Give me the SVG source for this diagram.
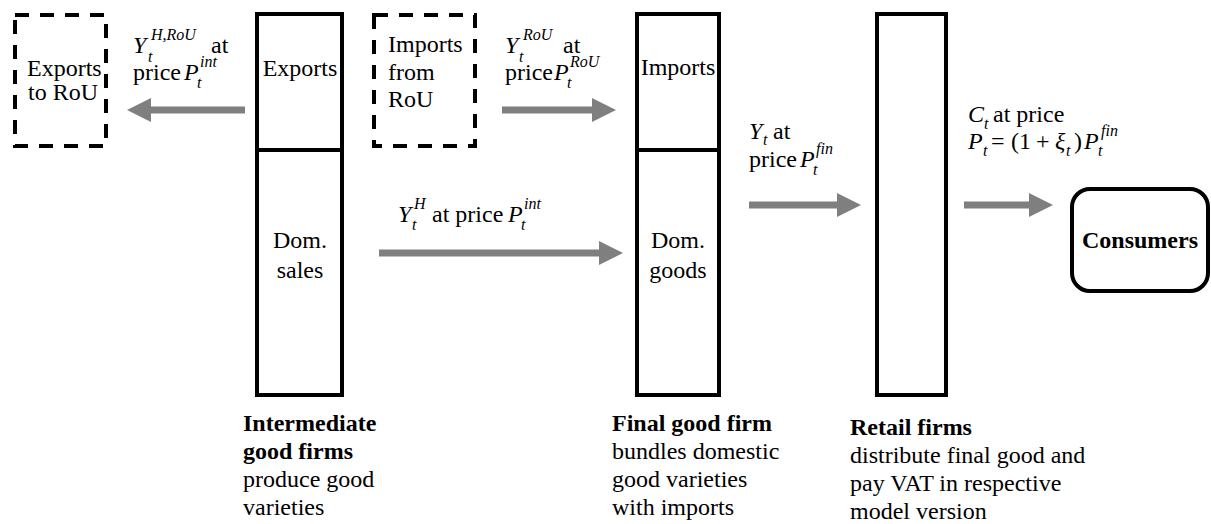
<svg xmlns="http://www.w3.org/2000/svg" width="1211" height="524" viewBox="0 0 1211 524" font-family="'Liberation Serif', 'DejaVu Serif', serif">
<style>
text{font-family:"Liberation Serif","DejaVu Serif",serif;font-size:24px;fill:#000}
.b{font-weight:bold}
.i{font-style:italic}
.s{font-size:16px;font-style:italic}
.m{text-anchor:middle}
.box{fill:#fff;stroke:#000;stroke-width:4}
.dash{fill:#fff;stroke:#000;stroke-width:4;stroke-dasharray:14 11}
.arr{stroke:#7f7f7f;stroke-width:7;fill:none;marker-end:url(#ah)}
</style>
<defs>
<marker id="ah" markerUnits="userSpaceOnUse" markerWidth="24" markerHeight="24" viewBox="0 0 24 24" refX="0" refY="12" orient="auto">
<path d="M0,0 L24,12 L0,24 z" fill="#7f7f7f"/>
</marker>
</defs>

<g id="exports-rou">
<rect class="dash" x="15" y="15" width="91" height="131"/>
<text x="27" y="76">Exports</text>
<text x="28" y="100">to RoU</text>
</g>

<g id="intermediate">
<rect class="box" x="257" y="14" width="85" height="381"/>
<line x1="257" y1="150" x2="342" y2="150" stroke="#000" stroke-width="4"/>
<text class="m" x="300" y="76">Exports</text>
<text class="m" x="300" y="248">Dom.</text>
<text class="m" x="300" y="278">sales</text>
<text class="b" x="243" y="431">Intermediate</text>
<text class="b" x="243" y="459">good firms</text>
<text x="243" y="487">produce good</text>
<text x="243" y="515">varieties</text>
</g>

<g id="imports-rou">
<rect class="dash" x="374" y="15" width="101" height="131"/>
<text x="388" y="52">Imports</text>
<text x="388" y="80">from</text>
<text x="388" y="107">RoU</text>
</g>

<g id="final">
<rect class="box" x="637" y="14" width="82" height="381"/>
<line x1="637" y1="150" x2="719" y2="150" stroke="#000" stroke-width="4"/>
<text class="m" x="678" y="75">Imports</text>
<text class="m" x="678" y="248">Dom.</text>
<text class="m" x="678" y="278">goods</text>
<text class="b" x="612" y="431">Final good firm</text>
<text x="612" y="459">bundles domestic</text>
<text x="612" y="487">good varieties</text>
<text x="612" y="515">with imports</text>
</g>

<g id="retail">
<rect class="box" x="877" y="14" width="69" height="381"/>
<text class="b" x="850" y="435">Retail firms</text>
<text x="850" y="463">distribute final good and</text>
<text x="850" y="491">pay VAT in respective</text>
<text x="850" y="519">model version</text>
</g>

<g id="consumers">
<rect class="box" x="1072" y="189" width="136" height="102" rx="18"/>
<text class="b m" x="1140" y="248">Consumers</text>
</g>

<g id="connectors">
<line class="arr" x1="245" y1="110" x2="151" y2="110"/>
<line class="arr" x1="502" y1="110" x2="592" y2="110"/>
<line class="arr" x1="379" y1="253" x2="599" y2="253"/>
<line class="arr" x1="749" y1="205" x2="837" y2="205"/>
<line class="arr" x1="964" y1="205" x2="1029" y2="205"/>
</g>

<g id="labels">
<text class="i" x="133" y="53">Y</text>
<text class="s" x="148" y="62">t</text>
<text class="s" x="151" y="40">H,RoU</text>
<text x="211" y="53">at</text>
<text x="133" y="80">price</text>
<text class="i" x="184" y="80">P</text>
<text class="s" x="197" y="88">t</text>
<text class="s" x="200" y="67">int</text>

<text class="i" x="505" y="53">Y</text>
<text class="s" x="519" y="62">t</text>
<text class="s" x="523" y="40">RoU</text>
<text x="563" y="53">at</text>
<text x="505" y="80">price</text>
<text class="i" x="554" y="80">P</text>
<text class="s" x="567" y="88">t</text>
<text class="s" x="570" y="67">RoU</text>

<text class="i" x="398" y="222">Y</text>
<text class="s" x="412" y="230">t</text>
<text class="s" x="414" y="209">H</text>
<text x="432" y="222">at price</text>
<text class="i" x="508" y="222">P</text>
<text class="s" x="521" y="230">t</text>
<text class="s" x="524" y="209">int</text>

<text class="i" x="749" y="139">Y</text>
<text class="s" x="763" y="145">t</text>
<text x="773" y="139">at</text>
<text x="749" y="167">price</text>
<text class="i" x="800" y="167">P</text>
<text class="s" x="813" y="175">t</text>
<text class="s" x="816" y="154">fin</text>

<text class="i" x="968" y="122">C</text>
<text class="s" x="984" y="129">t</text>
<text x="993" y="122">at price</text>
<text class="i" x="968" y="149">P</text>
<text class="s" x="983" y="156">t</text>
<text x="991" y="149">=</text>
<text x="1011" y="149">(1</text>
<text x="1036" y="149">+</text>
<text class="i" x="1055" y="149">ξ</text>
<text class="s" x="1066" y="156">t</text>
<text x="1074" y="149">)</text>
<text class="i" x="1084" y="149">P</text>
<text class="s" x="1098" y="156">t</text>
<text class="s" x="1101" y="136">fin</text>
</g>
</svg>
